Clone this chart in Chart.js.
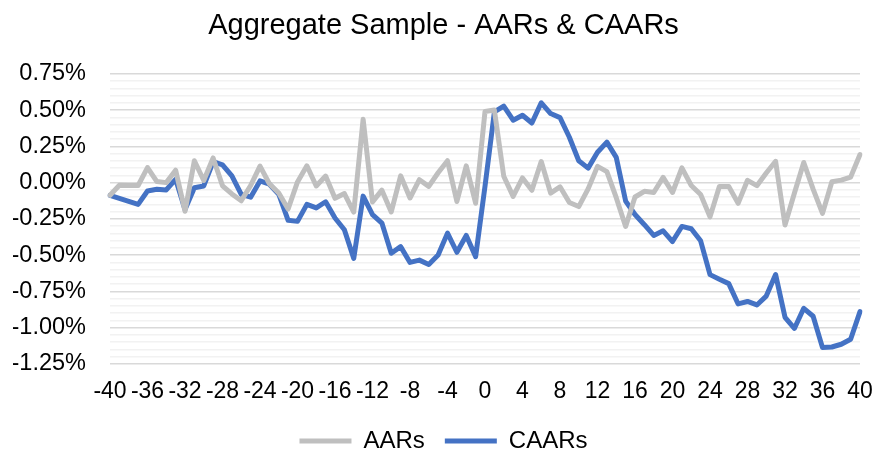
<!DOCTYPE html>
<html>
<head>
<meta charset="utf-8">
<script src="https://cdn.jsdelivr.net/npm/chart.js@4/dist/chart.umd.min.js"></script>
<style>
  html, body { margin: 0; padding: 0; background: #fff; }
  #wrap { width: 874px; height: 451px; }
</style>
</head>
<body>
<div id="wrap"><canvas id="chart" width="874" height="451"></canvas></div>
<script>
// event days -40 .. 40
const days = [];
for (let d = -40; d <= 40; d++) days.push(d);

// values in percent
const aars = [
  -0.087, -0.018, -0.020, -0.020, 0.104, 0.007, 0.000, 0.086, -0.197, 0.151,
  0.015, 0.170, -0.022, -0.078, -0.125, -0.020, 0.114, -0.008, -0.072, -0.182,
  0.005, 0.116, -0.023, 0.045, -0.108, -0.075, -0.203, 0.437, -0.133, -0.052,
  -0.202, 0.047, -0.106, 0.020, -0.026, 0.068, 0.151, -0.130, 0.116, -0.142,
  0.490, 0.500, 0.044, -0.095, 0.032, -0.053, 0.145, -0.072, -0.029, -0.137,
  -0.165, -0.043, 0.112, 0.076, -0.104, -0.302, -0.099, -0.060, -0.068, 0.036,
  -0.068, 0.102, -0.020, -0.082, -0.236, -0.027, -0.026, -0.143, 0.016, -0.021,
  0.066, 0.147, -0.292, -0.073, 0.139, -0.045, -0.212, 0.006, 0.017, 0.038,
  0.194
];
const caars = [
  -0.088, -0.109, -0.130, -0.150, -0.058, -0.046, -0.050, 0.023, -0.185, -0.035,
  -0.023, 0.144, 0.123, 0.047, -0.081, -0.100, 0.012, -0.011, -0.080, -0.260,
  -0.267, -0.150, -0.174, -0.132, -0.244, -0.325, -0.522, -0.093, -0.220, -0.279,
  -0.487, -0.441, -0.550, -0.534, -0.564, -0.499, -0.348, -0.480, -0.364, -0.510,
  -0.025, 0.487, 0.527, 0.430, 0.464, 0.411, 0.550, 0.476, 0.448, 0.313,
  0.151, 0.100, 0.209, 0.279, 0.174, -0.127, -0.220, -0.290, -0.364, -0.332,
  -0.406, -0.302, -0.318, -0.401, -0.634, -0.666, -0.696, -0.836, -0.819, -0.843,
  -0.782, -0.634, -0.928, -1.005, -0.866, -0.921, -1.137, -1.133, -1.114, -1.079,
  -0.889
];

const titleText = 'Aggregate Sample - AARs & CAARs';
const fontFamily = '"Liberation Sans", Arial, sans-serif';

const isMajor = v => Math.abs(Math.round(v / 0.25) * 0.25 - v) < 1e-6;

new Chart(document.getElementById('chart'), {
  type: 'line',
  data: {
    labels: days,
    datasets: [
      {
        label: 'AARs',
        data: aars,
        borderColor: '#BFBFBF',
        backgroundColor: '#BFBFBF',
        borderWidth: 5,
        borderJoinStyle: 'round',
        borderCapStyle: 'round',
        pointRadius: 0,
        tension: 0
      },
      {
        label: 'CAARs',
        data: caars,
        borderColor: '#4472C4',
        backgroundColor: '#4472C4',
        borderWidth: 5,
        borderJoinStyle: 'round',
        borderCapStyle: 'round',
        pointRadius: 0,
        tension: 0
      }
    ]
  },
  options: {
    responsive: false,
    animation: false,
    layout: { padding: { left: 13, right: 0, top: 0, bottom: -12 } },
    plugins: {
      title: {
        display: true,
        text: titleText,
        color: '#000',
        font: { family: fontFamily, size: 29, weight: 'normal' },
        padding: { top: 9, bottom: 30 }
      },
      legend: {
        position: 'bottom',
        labels: {
          color: '#000',
          font: { family: fontFamily, size: 24 },
          boxWidth: 52,
          boxHeight: 5,
          padding: 20,
          generateLabels: chart => chart.data.datasets.map((ds, i) => ({
            text: ds.label,
            fillStyle: ds.borderColor,
            strokeStyle: ds.borderColor,
            lineWidth: 0,
            fontColor: '#000',
            datasetIndex: i
          }))
        }
      },
      tooltip: { enabled: false }
    },
    scales: {
      x: {
        grid: { display: false, drawTicks: false },
        border: { display: false },
        afterFit: scale => {
          scale.height = 45;
          scale.paddingRight = 14;
        },
        ticks: {
          autoSkip: false,
          maxRotation: 0,
          padding: 14,
          color: '#000',
          font: { family: fontFamily, size: 23 },
          callback: function (value, index) {
            return index % 4 === 0 ? this.getLabelForValue(value) : '';
          }
        }
      },
      y: {
        min: -1.25,
        max: 0.75,
        border: { display: false },
        afterFit: scale => { scale.width = 97; },
        grid: {
          drawTicks: false,
          lineWidth: 1.5,
          color: ctx => isMajor(ctx.tick.value) ? '#D9D9D9' : '#F2F2F2'
        },
        ticks: {
          stepSize: 0.05,
          autoSkip: false,
          padding: 24,
          color: '#000',
          font: { family: fontFamily, size: 23.5 },
          callback: v => isMajor(v) ? v.toFixed(2) + '%' : ''
        }
      }
    }
  }
});
</script>
</body>
</html>
